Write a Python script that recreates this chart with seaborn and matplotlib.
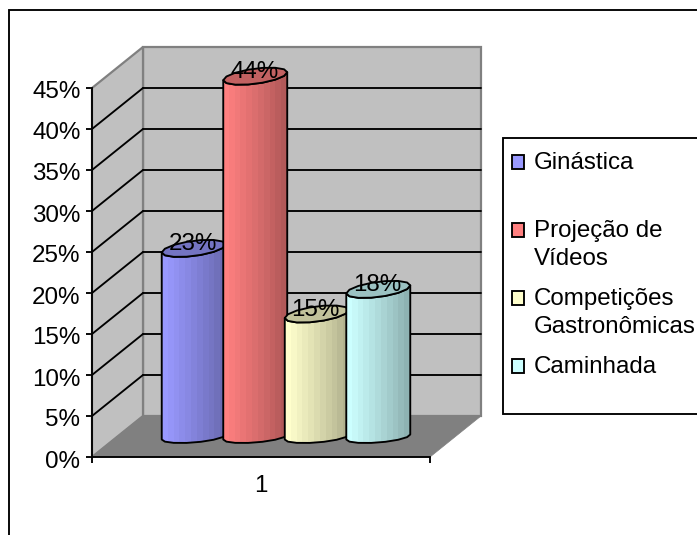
import numpy as np
import pandas as pd
import matplotlib
matplotlib.use("Agg")
import matplotlib.pyplot as plt
from matplotlib.patches import Patch, PathPatch, Polygon, Rectangle
from matplotlib.path import Path
from matplotlib.transforms import ScaledTranslation
import seaborn as sns

# Survey results
group = ["1"]
activities = ["Ginástica", "Projeção de\nVídeos", "Competições\nGastronômicas", "Caminhada"]
legend_labels = ["Ginástica\n ", "Projeção de\nVídeos", "Competições\nGastronômicas", "Caminhada\n "]
shares = [23, 44, 15, 18]
colors = ["#9999FF", "#FF8080", "#FFFFCC", "#CCFFFF"]
y_ticks = [0, 5, 10, 15, 20, 25, 30, 35, 40, 45]

W, H = 697, 535
sns.set_style("white")
plt.rcParams["font.family"] = ["Liberation Sans", "DejaVu Sans"]
FONT = 17.4
LW = 1.35


def box(left, top, width, height):
    # Axes rectangle from pixel measurements, with y counted from the top
    return [left / W, 1 - (top + height) / H, width / W, height / H]


fig = plt.figure(figsize=(W / 100, H / 100), dpi=100, facecolor="white")

# Outer chart border runs past the right and bottom edges of the canvas
fig.add_artist(Rectangle((8.5 / W, -0.1), 1.2, 1.1 - 10 / H, transform=fig.transFigure,
                         facecolor="none", edgecolor="black", linewidth=LW))

# Front plane: carries the value axis and the category axis
ax = fig.add_axes(box(92, 88, 338, 369))
ax.patch.set_alpha(0)
ax.set_xlim(-0.5, 0.5)
ax.set_ylim(0, 45)
DX, DY = 51 / 338, 5.0  # oblique depth of the box, in data units

wall_grey, floor_grey, edge_grey = "#C0C0C0", "#808080", "#808080"
ax.add_patch(Polygon([(-0.5 + DX, DY), (0.5 + DX, DY), (0.5 + DX, 45 + DY), (-0.5 + DX, 45 + DY)],
                     facecolor=wall_grey, edgecolor=edge_grey, linewidth=1.6, clip_on=False, zorder=1))
ax.add_patch(Polygon([(-0.5, 0), (-0.5 + DX, DY), (-0.5 + DX, 45 + DY), (-0.5, 45)],
                     facecolor=wall_grey, edgecolor=edge_grey, linewidth=1.6, clip_on=False, zorder=1))
ax.add_patch(Polygon([(-0.5, 0), (0.5, 0), (0.5 + DX, DY), (-0.5 + DX, DY)],
                     facecolor=floor_grey, edgecolor=floor_grey, linewidth=0.5, clip_on=False, zorder=1.1))
for v in y_ticks[1:-1]:
    ax.plot([-0.5 + DX, 0.5 + DX], [v + DY, v + DY], color="black", lw=LW, clip_on=False, zorder=1.2)
    ax.plot([-0.5, -0.5 + DX], [v, v + DY], color="black", lw=LW, clip_on=False, zorder=1.2)

for side in ("top", "right"):
    ax.spines[side].set_visible(False)
for side in ("left", "bottom"):
    ax.spines[side].set_color("black")
    ax.spines[side].set_linewidth(LW)
    ax.spines[side].set_zorder(3)
ax.set_yticks(y_ticks, [f"{v}%" for v in y_ticks])
ax.set_xticks([-0.5, 0.5], ["", ""])
ax.set_xticks([0], group, minor=True)
ax.tick_params(axis="both", which="major", direction="out", length=4.3, width=LW,
               color="black", labelsize=FONT, labelcolor="black", pad=4.0,
               left=True, bottom=True)
ax.tick_params(axis="x", which="minor", length=0, labelsize=FONT, labelcolor="black", pad=13)
# The value labels hang slightly below their ticks
for label in ax.get_yticklabels():
    label.set_transform(label.get_transform() + ScaledTranslation(0, -2 / 100, fig.dpi_scale_trans))

# Mid-depth plane: the cylinders stand halfway along the floor
bars_ax = fig.add_axes(box(117, 68, 338, 369))
bars_ax.patch.set_alpha(0)
table = pd.DataFrame({"grupo": group * len(activities), "atividade": activities, "valor": shares})
sns.barplot(data=table, x="grupo", y="valor", hue="atividade", hue_order=activities,
            palette=colors, saturation=1, width=0.728, gap=-0.04, legend=False, ax=bars_ax)
bars_ax.set_xlim(-0.5, 0.5)
bars_ax.set_ylim(0, 45)
bars_ax.axis("off")

px_y = 45 / 369  # data units per pixel vertically
TOP_B, TOP_K = 7.6 * px_y, 4.0 * px_y
BASE_B, BASE_K = 5.5 * px_y, 2.5 * px_y
N_SEG = 14
N_BANDS = 11

for i, (rect, value, colour) in enumerate(zip(bars_ax.patches, shares, colors)):
    x0, w = rect.get_x(), rect.get_width()
    cx, a = x0 + w / 2, w / 2
    z = 2 + i

    def ring(t, level, b, k):
        return np.column_stack([cx + a * np.cos(t), level + b * np.sin(t) + k * np.cos(t)])

    t_full = np.linspace(0, 2 * np.pi, N_SEG + 1)
    t_back = np.pi + np.linspace(0, np.pi, N_SEG // 2 + 1)
    side_pts = np.vstack([ring(t_back, 0, BASE_B, BASE_K), ring(t_back[::-1], value, TOP_B, TOP_K)])
    side_path = Path(np.vstack([side_pts, side_pts[:1]]), closed=True)
    outline = PathPatch(side_path, facecolor="none", edgecolor="black", lw=LW,
                        joinstyle="round", zorder=z + 0.3, clip_on=False)
    bars_ax.add_patch(outline)

    # Banded shading across the cylinder, bright on the left and dark on the right
    base = np.array(matplotlib.colors.to_rgb(colour))
    shade = 1 - 0.3 * np.linspace(0, 1, N_BANDS) ** 1.1
    strip = (base[None, None, :] * shade[None, :, None])
    img = bars_ax.imshow(strip, extent=(x0, x0 + w, -2, value + 2), aspect="auto",
                         interpolation="nearest", zorder=z)
    img.set_clip_box(fig.bbox)
    img.set_clip_path(outline)
    rect.set_zorder(z - 0.1)
    rect.set_clip_box(fig.bbox)
    rect.set_clip_path(outline)

    cap = Polygon(ring(t_full[:-1], value, TOP_B, TOP_K), closed=True, facecolor=base * 0.76,
                  edgecolor="black", lw=LW, joinstyle="round", zorder=z + 0.4, clip_on=False)
    bars_ax.add_patch(cap)

bars_ax.set_xlim(-0.5, 0.5)
bars_ax.set_ylim(0, 45)

# Value labels sit over the top of each cylinder
for rect, value in zip(bars_ax.patches, shares):
    bars_ax.annotate(f"{value}%", (rect.get_x() + rect.get_width() / 2, value),
                     xytext=(-0.7, 3.0), textcoords="offset points", ha="center", va="center",
                     fontsize=FONT, color="black", zorder=20, annotation_clip=False)

# Legend
handles = [Patch(facecolor=c, edgecolor="black", linewidth=LW) for c in colors]
leg = fig.legend(handles, legend_labels, loc="upper left",
                 bbox_to_anchor=(498 / W, 1 - 138 / H), bbox_transform=fig.transFigure,
                 fontsize=FONT, frameon=True, fancybox=False, framealpha=1, edgecolor="black",
                 borderpad=0.58, borderaxespad=0, handlelength=0.5, handleheight=0.5,
                 handletextpad=0.4, labelspacing=0.74)
leg.get_frame().set_linewidth(LW)
leg.set_zorder(30)
for text in leg.get_texts():
    text.set_color("black")
    text.set_linespacing(1.36)
# Swatches line up with the first line of their labels
for column in leg._legend_handle_box.get_children():
    for row in column.get_children():
        row.align = "top"
for handle in leg.legend_handles:
    handle.set_y(handle.get_y() - 2)

# The frame sits tight on the left and stops short of the last entry's empty line
frame = leg.get_frame()
frame_set_bounds = frame.set_bounds


def trimmed_bounds(bounds):
    x, y, width, height = bounds
    frame_set_bounds(x + 5, y + 6, width - 5, height - 6)


frame.set_bounds = trimmed_bounds

fig.savefig("out.png", dpi=100, facecolor="white")
